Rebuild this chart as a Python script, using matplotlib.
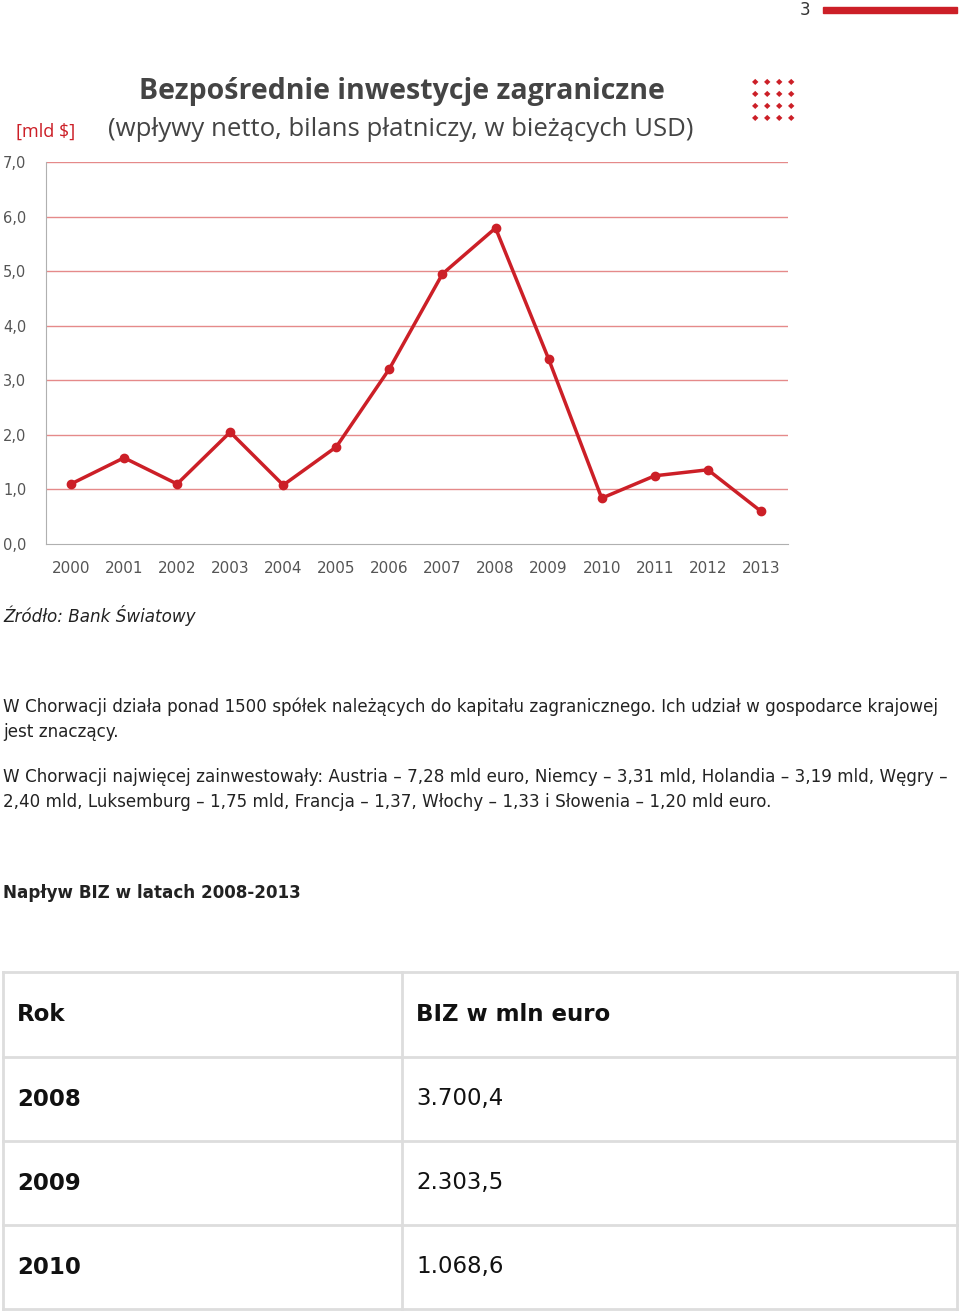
import matplotlib
matplotlib.use('Agg')
import matplotlib.pyplot as plt
from matplotlib.patches import Rectangle

# data
years = list(range(2000, 2014))
fdi = [1.10, 1.58, 1.10, 2.05, 1.08, 1.78, 3.21, 4.95, 5.79, 3.39, 0.84, 1.25, 1.36, 0.60]
y_ticks = [0, 1, 2, 3, 4, 5, 6, 7]
table_header = ["Rok", "BIZ w mln euro"]
table_years = ["2008", "2009", "2010"]
table_values = ["3.700,4", "2.303,5", "1.068,6"]

W, H = 960, 1313
RED = '#cc1f27'
fig = plt.figure(figsize=(W / 100, H / 100), dpi=100)
fig.patch.set_facecolor('white')


def fx(x):
    return x / W


def fy(y):
    return 1 - y / H


# chart area
ax = fig.add_axes([fx(46), fy(544), fx(788) - fx(46), fy(162) - fy(544)])
ax.set_xlim(1999.53, 2013.51)
ax.set_ylim(0, 7)
for v in y_ticks[1:]:
    ax.axhline(v, color='#e58a8a', lw=1, zorder=1)
ax.plot(years, fdi, color=RED, lw=2.5, marker='o', ms=6, zorder=3)
for s in ['top', 'right']:
    ax.spines[s].set_visible(False)
ax.spines['left'].set_color('#b0b0b0')
ax.spines['bottom'].set_color('#b0b0b0')
ax.set_yticks(y_ticks)
ax.set_yticklabels([('%.1f' % v).replace('.', ',') for v in y_ticks], fontsize=10.5, color='#555555')
ax.tick_params(axis='y', length=0, pad=14)
ax.set_xticks(years)
ax.set_xticklabels([str(y) for y in years], fontsize=11, color='#555555')
ax.tick_params(axis='x', length=0, pad=12)

fig.text(fx(402), fy(92), 'Bezpośrednie inwestycje zagraniczne', ha='center', va='center',
         fontsize=20.5, fontweight='bold', color='#444444', family='Open Sans')
fig.text(fx(401), fy(130), '(wpływy netto, bilans płatniczy, w bieżących USD)', ha='center', va='center',
         fontsize=18.5, color='#444444', family='Open Sans')
fig.text(fx(16), fy(132), '[mld $]', ha='left', va='center', fontsize=13, color=RED, family='Open Sans')

# decorative logo (diamond of dots)
for i in range(-3, 4):
    for j in range(-3, 4):
        if abs(i) + abs(j) <= 3:
            fig.text(fx(773 + (i - j) * 6), fy(100 + (i + j) * 6), '◆', fontsize=6,
                     color=RED if (i + j) % 2 else 'white', ha='center', va='center')

# page header
fig.text(fx(805), fy(10), '3', ha='center', va='center', fontsize=12, color='#333333')
fig.patches.append(Rectangle((fx(823), fy(13)), fx(957) - fx(823), fy(7) - fy(13),
                             transform=fig.transFigure, color=RED))

body = dict(fontsize=12.1, color='#222222', family='DejaVu Sans', ha='left', va='center')
fig.text(fx(3), fy(615), 'Źródło: Bank Światowy', style='italic', **body)
fig.text(fx(3), fy(707), 'W Chorwacji działa ponad 1500 spółek należących do kapitału zagranicznego. '
         'Ich udział w gospodarce krajowej', **body)
fig.text(fx(3), fy(732), 'jest znaczący.', **body)
fig.text(fx(3), fy(777), 'W Chorwacji najwięcej zainwestowały: Austria – 7,28 mld euro, Niemcy – 3,31 mld, '
         'Holandia – 3,19 mld, Węgry –', **body)
fig.text(fx(3), fy(802), '2,40 mld, Luksemburg – 1,75 mld, Francja – 1,37, Włochy – 1,33 i Słowenia – 1,20 mld euro.',
         **body)
fig.text(fx(3), fy(893), 'Napływ BIZ w latach 2008-2013', fontweight='bold', **body)

# table
rows_y = [972, 1057, 1141, 1225, 1309]
border = '#dddddd'
for x in [3, 402, 957]:
    fig.lines.append(plt.Line2D([fx(x), fx(x)], [fy(972), fy(1309)], transform=fig.transFigure, color=border, lw=2))
for y in rows_y:
    fig.lines.append(plt.Line2D([fx(3), fx(957)], [fy(y), fy(y)], transform=fig.transFigure, color=border, lw=2))

cells = [table_header] + list(zip(table_years, table_values))
for k, (a, b) in enumerate(cells):
    yc = (rows_y[k] + rows_y[k + 1]) / 2
    fig.text(fx(17), fy(yc), a, fontsize=16.5, fontweight='bold', color='#111111', ha='left', va='center')
    fig.text(fx(416), fy(yc), b, fontsize=16.5, fontweight='bold' if k == 0 else 'normal',
             color='#111111', ha='left', va='center')

fig.savefig('out.png', dpi=100, facecolor='white')
